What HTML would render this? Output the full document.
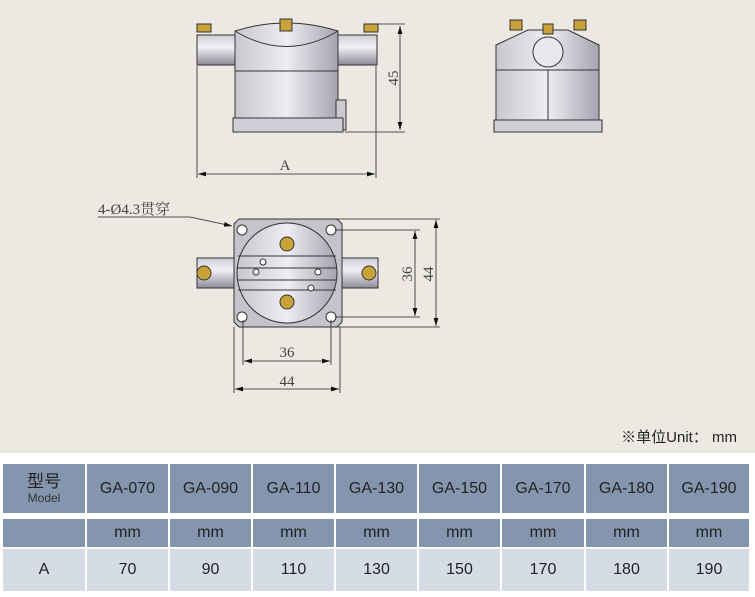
<!DOCTYPE html>
<html><head><meta charset="utf-8"><style>
body{margin:0;width:755px;height:597px;overflow:hidden;background:#fff;font-family:"Liberation Sans","Noto Sans CJK SC",sans-serif}
.top{position:absolute;left:0;top:0;width:755px;height:453px;background:#ebe9e1}
.unit{position:absolute;right:18px;top:426px;font-size:15px;color:#222}
.c{position:absolute;display:flex;align-items:center;justify-content:center;flex-direction:column;font-size:16px;color:#222}
</style></head><body>
<div class="top"></div>
<svg style="position:absolute;left:0;top:0" width="755" height="453" viewBox="0 0 755 453">
<defs>
<linearGradient id="g" x1="0" x2="1"><stop offset="0" stop-color="#c9c6cf"/><stop offset=".5" stop-color="#eeedf2"/><stop offset="1" stop-color="#a7a2b0"/></linearGradient>
<linearGradient id="gv" x1="0" y1="0" x2="0" y2="1"><stop offset="0" stop-color="#cfcdd6"/><stop offset=".4" stop-color="#f2f1f5"/><stop offset="1" stop-color="#8f8a99"/></linearGradient>
<marker id="a" markerWidth="10" markerHeight="6" refX="10" refY="3" orient="auto-start-reverse"><path d="M0,0L10,3L0,6z" fill="#111"/></marker>
</defs>
<g stroke="#333" stroke-width="1">
<rect x="197" y="35" width="40" height="30" fill="url(#gv)"/>
<rect x="337" y="35" width="40" height="30" fill="url(#gv)"/>
<path d="M235,31 Q286,15 338,31 L338,71 L235,71Z" fill="url(#g)"/>
<path d="M235,31 Q286,62 338,31" fill="none"/>
<rect x="235" y="71" width="103" height="47" fill="url(#g)"/>
<rect x="336" y="100" width="10" height="30" fill="#ccc9d2"/>
<rect x="233" y="118" width="110" height="14" fill="#d2cfd8"/>
<rect x="197" y="24" width="14" height="8" fill="#c9a23a"/><rect x="280" y="19" width="12" height="12" fill="#c9a23a"/><rect x="364" y="24" width="14" height="8" fill="#c9a23a"/>
<path d="M496,45 L528,30 L568,30 L599,45 L599,120 L496,120Z" fill="url(#g)"/>
<line x1="496" y1="70" x2="599" y2="70"/><line x1="548" y1="70" x2="548" y2="120"/>
<circle cx="548" cy="52" r="15" fill="#e8e7ec"/>
<rect x="494" y="120" width="108" height="12" fill="#d2cfd8"/>
<rect x="510" y="20" width="12" height="10" fill="#c9a23a"/><rect x="543" y="24" width="10" height="10" fill="#c9a23a"/><rect x="574" y="20" width="12" height="10" fill="#c9a23a"/>
<rect x="197" y="258" width="40" height="30" fill="url(#gv)"/>
<rect x="338" y="258" width="40" height="30" fill="url(#gv)"/>
<path d="M239,219 L337,219 L342,224 L342,322 L337,327 L239,327 L234,322 L234,224Z" fill="#c6c3cb"/>
<circle cx="287" cy="273" r="50" fill="url(#g)"/>
<line x1="238" y1="256" x2="336" y2="256"/><line x1="237" y1="268" x2="337" y2="268"/><line x1="237" y1="280" x2="337" y2="280"/><line x1="238" y1="290" x2="336" y2="290"/>
<g fill="#fff"><circle cx="242" cy="230" r="5"/><circle cx="331" cy="230" r="5"/><circle cx="242" cy="317" r="5"/><circle cx="331" cy="317" r="5"/><circle cx="263" cy="262" r="3"/><circle cx="256" cy="272" r="3"/><circle cx="318" cy="272" r="3"/><circle cx="311" cy="288" r="3"/></g>
<g fill="#c9a23a" stroke="#333"><circle cx="204" cy="273" r="7"/><circle cx="369" cy="273" r="7"/><circle cx="287" cy="244" r="7"/><circle cx="287" cy="302" r="7"/></g>
</g>
<g stroke="#222" stroke-width=".8" fill="none">
<line x1="371" y1="24" x2="405" y2="24"/><line x1="345" y1="132" x2="405" y2="132"/>
<line x1="400" y1="26" x2="400" y2="130" marker-start="url(#a)" marker-end="url(#a)"/>
<line x1="197" y1="66" x2="197" y2="178"/><line x1="376" y1="66" x2="376" y2="178"/>
<line x1="198" y1="174" x2="375" y2="174" marker-start="url(#a)" marker-end="url(#a)"/>
<line x1="335" y1="219" x2="440" y2="219"/><line x1="335" y1="327" x2="440" y2="327"/>
<line x1="335" y1="230" x2="420" y2="230"/><line x1="335" y1="317" x2="420" y2="317"/>
<line x1="415" y1="231" x2="415" y2="316" marker-start="url(#a)" marker-end="url(#a)"/>
<line x1="436" y1="220" x2="436" y2="326" marker-start="url(#a)" marker-end="url(#a)"/>
<line x1="243" y1="320" x2="243" y2="365"/><line x1="331" y1="320" x2="331" y2="365"/>
<line x1="234" y1="327" x2="234" y2="393"/><line x1="340" y1="327" x2="340" y2="393"/>
<line x1="244" y1="361" x2="330" y2="361" marker-start="url(#a)" marker-end="url(#a)"/>
<line x1="235" y1="389" x2="339" y2="389" marker-start="url(#a)" marker-end="url(#a)"/>
<polyline points="98,217 190,217 232,226" marker-end="url(#a)"/>
</g>
<g font-family="Liberation Serif,Noto Serif CJK SC,serif" fill="#444" font-size="15">
<text x="285" y="170" text-anchor="middle">A</text>
<text transform="translate(398,78) rotate(-90)" text-anchor="middle">45</text>
<text transform="translate(412,274) rotate(-90)" text-anchor="middle">36</text>
<text transform="translate(433,274) rotate(-90)" text-anchor="middle">44</text>
<text x="287" y="357" text-anchor="middle">36</text>
<text x="287" y="386" text-anchor="middle">44</text>
<text x="98" y="214" font-size="15">4-Ø4.3贯穿</text>
</g>
</svg>
<div class="unit">※单位Unit： mm</div>
<div id="t"></div>
<script>
var xs=[3,87,170,253,336,419,502,586,669,751];
var rows=[[464,513,'#8496ae'],[519,547,'#8496ae'],[549,591,'#d6dce6']];
var data=[['<div style="font-size:17px;line-height:18px">型号</div><div style="font-size:12px;color:#333">Model</div>','GA-070','GA-090','GA-110','GA-130','GA-150','GA-170','GA-180','GA-190'],
['','mm','mm','mm','mm','mm','mm','mm','mm'],['A','70','90','110','130','150','170','180','190']];
var h='';
for(var r=0;r<3;r++)for(var c=0;c<9;c++){h+='<div class="c" style="left:'+xs[c]+'px;top:'+rows[r][0]+'px;width:'+(xs[c+1]-xs[c]-2)+'px;height:'+(rows[r][1]-rows[r][0])+'px;background:'+rows[r][2]+'">'+data[r][c]+'</div>';}
document.getElementById('t').innerHTML=h;
</script>
</body></html>
